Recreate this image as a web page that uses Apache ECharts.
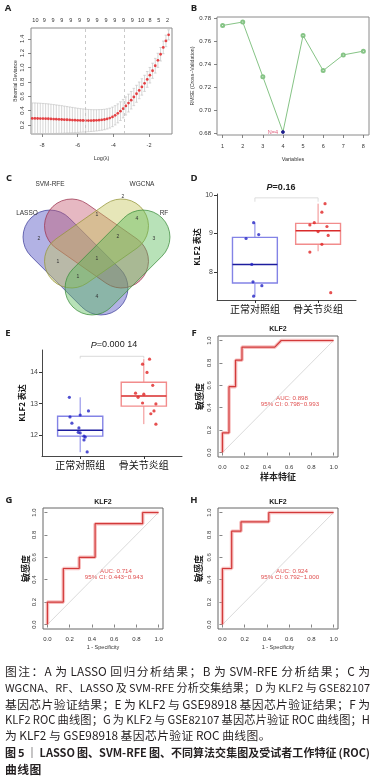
<!DOCTYPE html>
<html>
<head>
<meta charset="utf-8">
<script src="https://cdn.jsdelivr.net/npm/echarts@6/dist/echarts.min.js"></script>
<style>
html, body { margin: 0; padding: 0; background: #fff; }
#chart { width: 380px; height: 784px; }
</style>
</head>
<body>
<div id="chart"></div>
<script>
// A: LASSO 交叉验证曲线
const logLambda = [-8.55,-8.40,-8.25,-8.10,-7.95,-7.80,-7.65,-7.50,-7.35,-7.20,
  -7.05,-6.90,-6.75,-6.60,-6.45,-6.30,-6.15,-6.00,-5.85,-5.70,
  -5.55,-5.40,-5.25,-5.10,-4.95,-4.80,-4.65,-4.50,-4.35,-4.20,
  -4.05,-3.90,-3.75,-3.60,-3.45,-3.30,-3.15,-3.00,-2.85,-2.70,
  -2.55,-2.40,-2.25,-2.10,-1.95,-1.80,-1.65,-1.50,-1.35,-1.20,
  -1.05,-0.90];
const cvMean = [0.292,0.292,0.291,0.290,0.289,0.288,0.287,0.285,0.283,0.281,
  0.279,0.277,0.275,0.273,0.271,0.269,0.267,0.265,0.264,0.263,
  0.262,0.262,0.262,0.263,0.265,0.268,0.272,0.277,0.285,0.296,
  0.313,0.335,0.362,0.393,0.428,0.465,0.505,0.545,0.590,0.635,
  0.682,0.730,0.780,0.835,0.893,0.955,1.025,1.100,1.185,1.280,
  1.370,1.455];
const cvSd = [0.215,0.215,0.214,0.213,0.211,0.209,0.207,0.204,0.201,0.198,
  0.195,0.192,0.188,0.184,0.180,0.176,0.172,0.168,0.164,0.161,
  0.158,0.155,0.152,0.150,0.148,0.146,0.144,0.142,0.140,0.138,
  0.136,0.134,0.132,0.130,0.128,0.126,0.124,0.122,0.120,0.118,
  0.116,0.114,0.112,0.110,0.108,0.105,0.102,0.098,0.094,0.088,
  0.080,0.070];
const nonzeroCounts = ['10','9','9','9','9','9','9','9','9','9','9','9','10','8','5','2'];
const lambdaMinLog = -5.55;
const lambda1seLog = -3.4;

// B: SVM-RFE
const rfeVars = [1, 2, 3, 4, 5, 6, 7, 8];
const rfeRmse = [0.7741, 0.7771, 0.7294, 0.6811, 0.7654, 0.7347, 0.7484, 0.7517];
const rfeBest = 4;

// C: 韦恩图
const vennNames = ['LASSO', 'SVM-RFE', 'WGCNA', 'RF'];
const vennCounts = [2, 1, 4, 2, 2, 3, 1, 1, 1, 4];

// D / E: 箱线图
const groupNames = ['正常对照组', '骨关节炎组'];
const dCtrlX = [0.86, 0.98, 1.06, 0.95, 0.97, 1.11, 0.98];
const dCtrlY = [8.87, 9.28, 8.97, 8.20, 7.75, 7.65, 7.38];
const dOaX = [2.11, 2.06, 1.94, 1.87, 2.14, 2.16, 2.06, 1.87, 2.20, 2.00];
const dOaY = [9.77, 9.55, 9.28, 9.22, 9.18, 8.95, 8.72, 8.52, 7.47, 9.05];
const dBoxCtrl = [7.38, 7.72, 8.20, 8.90, 9.28];
const dBoxOa = [8.54, 8.72, 9.07, 9.26, 9.77];
const dP = '0.16';

const eCtrlX = [0.83, 0.84, 1.00, 1.13, 0.87, 0.98, 0.97, 1.00, 1.06, 1.08, 1.06, 1.11];
const eCtrlY = [13.20, 12.58, 12.64, 12.77, 12.38, 12.23, 12.09, 12.07, 11.97, 11.94, 11.85, 11.47];
const eOaX = [2.09, 1.98, 2.05, 2.14, 1.87, 2.00, 1.91, 1.98, 2.16, 2.11, 2.19, 2.19];
const eOaY = [14.41, 14.25, 13.99, 13.58, 13.33, 13.30, 13.20, 13.02, 12.77, 12.68, 12.99, 12.35];
const eBoxCtrl = [11.46, 11.97, 12.16, 12.60, 13.20];
const eBoxOa = [12.35, 12.92, 13.24, 13.68, 14.41];
const eP = '0.000 14';

// F / G / H: ROC
const rocF_fpr = [0, 0, 0.059, 0.059, 0.118, 0.118, 0.176, 0.176, 0.471, 0.529, 1];
const rocF_tpr = [0, 0.176, 0.176, 0.588, 0.588, 0.824, 0.824, 0.941, 0.941, 1, 1];
const rocG_fpr = [0, 0, 0.143, 0.143, 0.286, 0.286, 0.429, 0.429, 0.857, 0.857, 1];
const rocG_tpr = [0, 0.2, 0.2, 0.5, 0.5, 0.6, 0.6, 0.9, 0.9, 1, 1];
const rocH_fpr = [0, 0, 0.083, 0.083, 0.167, 0.167, 0.417, 0.417, 1];
const rocH_tpr = [0, 0.5, 0.5, 0.833, 0.833, 0.917, 0.917, 1, 1];
const aucTexts = [
  ['AUC: 0.898', '95% CI: 0.798−0.993'],
  ['AUC: 0.714', '95% CI: 0.443−0.943'],
  ['AUC: 0.924', '95% CI: 0.792−1.000']
];
const rocTicks = [0, 0.2, 0.4, 0.6, 0.8, 1.0];

const captionLines = [
  '图注：A 为 LASSO 回归分析结果；B 为 SVM-RFE 分析结果；C 为',
  'WGCNA、RF、LASSO 及 SVM-RFE 分析交集结果；D 为 KLF2 与 GSE82107',
  '基因芯片验证结果；E 为 KLF2 与 GSE98918 基因芯片验证结果；F 为',
  'KLF2 ROC 曲线图；G 为 KLF2 与 GSE82107 基因芯片验证 ROC 曲线图；H',
  '为 KLF2 与 GSE98918 基因芯片验证 ROC 曲线图。',
  '图 5 ｜ LASSO 图、SVM-RFE 图、不同算法交集图及受试者工作特征 (ROC)',
  '曲线图'
];

const RF = '"Liberation Sans", Arial, sans-serif';
const CJK = '"Noto Sans CJK SC", sans-serif';

const chart = echarts.init(document.getElementById('chart'));

// R 风格坐标轴
function rX(grid, min, max, ticks, fmt, name, gap, nameStyle, extra) {
  return Object.assign({
    gridIndex: grid, type: 'value', min: min, max: max,
    axisLine: { show: false },
    axisTick: { show: true, length: 3, customValues: ticks, lineStyle: { color: '#666', width: 0.8 } },
    axisLabel: { customValues: ticks, formatter: fmt, fontSize: 6, fontFamily: RF, color: '#333', margin: 7 },
    splitLine: { show: false },
    name: name, nameLocation: 'middle', nameGap: gap,
    nameTextStyle: Object.assign({ fontSize: 6, fontFamily: RF, color: '#333' }, nameStyle || {})
  }, extra || {});
}
function rY(grid, min, max, ticks, fmt, name, gap, nameStyle, rotate, extra) {
  return Object.assign({
    gridIndex: grid, type: 'value', min: min, max: max,
    axisLine: { show: false },
    axisTick: { show: true, length: 3, customValues: ticks, lineStyle: { color: '#666', width: 0.8 } },
    axisLabel: { customValues: ticks, formatter: fmt, fontSize: 6, fontFamily: RF, color: '#333', margin: 6, rotate: rotate },
    splitLine: { show: false },
    name: name, nameLocation: 'middle', nameGap: gap, nameRotate: 90,
    nameTextStyle: Object.assign({ fontSize: 6, fontFamily: RF, color: '#333' }, nameStyle || {})
  }, extra || {});
}
// ggplot 风格坐标轴
function gX(grid) {
  return {
    gridIndex: grid, type: 'value', min: 0.4, max: 2.6,
    axisLine: { show: true, lineStyle: { color: '#333', width: 0.9 } },
    axisTick: { show: true, length: 3, customValues: [1, 2], lineStyle: { color: '#333' } },
    axisLabel: { customValues: [1, 2], formatter: v => groupNames[Math.round(v) - 1],
      fontSize: 10, fontFamily: CJK, color: '#111', margin: 4 },
    splitLine: { show: false }
  };
}
function gY(grid, min, max, ticks, gap) {
  return {
    gridIndex: grid, type: 'value', min: min, max: max,
    axisLine: { show: true, lineStyle: { color: '#333', width: 0.9 } },
    axisTick: { show: true, length: 3, customValues: ticks, lineStyle: { color: '#333' } },
    axisLabel: { customValues: ticks, fontSize: 7, fontFamily: RF, color: '#444', margin: 4 },
    splitLine: { show: false },
    name: 'KLF2 表达', nameLocation: 'middle', nameGap: gap, nameRotate: 90,
    nameTextStyle: { fontSize: 8, fontFamily: CJK, fontWeight: 'bold', color: '#111' }
  };
}

const f1 = v => v.toFixed(1);

// 箱线图
function boxRender(lineColors, medColors) {
  return function (params, api) {
    const x = api.value(0);
    const half = 0.355;
    const pLo = api.coord([x, api.value(1)]);
    const pQ1 = api.coord([x - half, api.value(2)]);
    const pMedL = api.coord([x - half, api.value(3)]);
    const pMedR = api.coord([x + half, api.value(3)]);
    const pQ3 = api.coord([x + half, api.value(4)]);
    const pHi = api.coord([x, api.value(5)]);
    const c = lineColors[params.dataIndex];
    return {
      type: 'group', children: [
        { type: 'line', shape: { x1: pLo[0], y1: pLo[1], x2: pLo[0], y2: pQ1[1] }, style: { stroke: c, lineWidth: 1 } },
        { type: 'line', shape: { x1: pHi[0], y1: pHi[1], x2: pHi[0], y2: pQ3[1] }, style: { stroke: c, lineWidth: 1 } },
        { type: 'rect', shape: { x: pQ1[0], y: pQ3[1], width: pQ3[0] - pQ1[0], height: pQ1[1] - pQ3[1] },
          style: { fill: 'rgba(255,255,255,0)', stroke: c, lineWidth: 1.4 } },
        { type: 'line', shape: { x1: pMedL[0], y1: pMedL[1], x2: pMedR[0], y2: pMedR[1] },
          style: { stroke: medColors[params.dataIndex], lineWidth: 1.5 } }
      ]
    };
  };
}

function boxSeries(grid, ctrl, oa) {
  return {
    type: 'custom', xAxisIndex: grid, yAxisIndex: grid - 1,
    renderItem: boxRender(['#8383e6', '#f28c8c'], ['#1d1d9e', '#d92b2b']),
    data: [[1].concat(ctrl), [2].concat(oa)], z: 2
  };
}
function dots(xi, yi, xs, ys, color) {
  return {
    type: 'scatter', xAxisIndex: xi, yAxisIndex: yi, symbolSize: 3.2,
    itemStyle: { color: color }, data: xs.map((x, i) => [x, ys[i]]), z: 3
  };
}
function bracket(xi, yi, top, foot, color) {
  return {
    type: 'line', xAxisIndex: xi, yAxisIndex: yi, symbol: 'none', silent: true,
    lineStyle: { color: color, width: 0.8 },
    data: [[1, foot], [1, top], [2, top], [2, foot]]
  };
}
function rocSeries(idx, fpr, tpr) {
  const pts = fpr.map((x, i) => [x, tpr[i]]);
  return [
    { type: 'line', xAxisIndex: idx, yAxisIndex: idx - 1, symbol: 'none', silent: true,
      lineStyle: { color: '#d0d0d0', width: 0.8 }, data: [[0, 0], [1, 1]] },
    { type: 'line', xAxisIndex: idx, yAxisIndex: idx - 1, symbol: 'none', silent: true,
      lineStyle: { color: 'rgba(240,140,140,0.55)', width: 3.6 }, data: pts },
    { type: 'line', xAxisIndex: idx, yAxisIndex: idx - 1, symbol: 'none', silent: true,
      lineStyle: { color: '#d23a3a', width: 1.2 }, data: pts }
  ];
}

// 图形元素
const graphics = [];
function txt(x, y, text, size, opts) {
  graphics.push({
    type: 'text', x: x, y: y, silent: true,
    style: Object.assign({ text: text, fontSize: size, fontFamily: RF, fill: '#222',
      align: 'center', verticalAlign: 'middle' }, opts || {})
  });
}
// 分图标号
[['A', 8, 8], ['B', 194, 8], ['C', 9, 178], ['D', 194, 178], ['E', 8, 333],
 ['F', 194, 333], ['G', 9, 500], ['H', 194, 500]].forEach(l =>
  txt(l[1], l[2], l[0], 9.5, { fontWeight: 'bold', fontFamily: '"Open Sans", ' + RF }));

// 韦恩图
const deg = Math.PI / 180;
const vennW = 54;
const vennShapes = [
  { cx: 75.5, cy: 262.5, rot: -45 * deg, L: 126, fill: 'rgba(85,85,195,0.45)', stroke: '#3f3f9a' },
  { cx: 96.5, cy: 243.5, rot: -35 * deg, L: 115, fill: 'rgba(195,85,110,0.42)', stroke: '#9c3550' },
  { cx: 96.5, cy: 243.5, rot: 35 * deg, L: 115, fill: 'rgba(195,195,85,0.42)', stroke: '#96963a' },
  { cx: 117.5, cy: 262.5, rot: 45 * deg, L: 126, fill: 'rgba(85,185,85,0.42)', stroke: '#3c8c3c' }
];
vennShapes.forEach(s => graphics.push({
  type: 'rect', x: s.cx, y: s.cy, rotation: s.rot, silent: true,
  shape: { x: -s.L / 2, y: -vennW / 2, width: s.L, height: vennW, r: vennW / 2 },
  style: { fill: s.fill, stroke: s.stroke, lineWidth: 0.7 }
}));
const vennNamePos = [[27, 213], [50, 184], [142, 184], [164, 213]];
vennNames.forEach((n, i) => txt(vennNamePos[i][0], vennNamePos[i][1], n, 6.5, { fill: '#333' }));
const vennCountPos = [[123, 197], [97, 215], [137, 219], [39, 239], [118, 237],
  [154, 239], [58, 262], [97, 259], [78, 277], [97, 297]];
vennCounts.forEach((c, i) => txt(vennCountPos[i][0], vennCountPos[i][1], String(c), 5, { fill: '#333' }));

// P 值
txt(281, 188, '{i|P}=' + dP, 9, { fontWeight: 'bold', rich: { i: { fontStyle: 'italic', fontWeight: 'bold', fontSize: 9, fontFamily: RF } } });
txt(114, 345, '{i|P}=' + eP, 9, { rich: { i: { fontStyle: 'italic', fontSize: 9, fontFamily: RF } } });

// ROC 标题与 AUC
[[278, 329], [103, 502], [278, 502]].forEach(p => txt(p[0], p[1], 'KLF2', 7, { fontWeight: 'bold' }));
[[292, 398], [116, 571], [292, 571]].forEach((p, i) => {
  txt(p[0], p[1], aucTexts[i][0], 6.2, { fill: '#e05050' });
  txt(p[0] - 2, p[1] + 6, aucTexts[i][1], 6.2, { fill: '#e05050' });
});

// 图注（两端对齐）
const meas = document.createElement('canvas').getContext('2d');
const capTops = [672, 688, 705, 720, 736, 753, 770];
const capJustify = [1, 1, 1, 1, 0, 1, 0];
const capLeft = 5, capRight = 370;
captionLines.forEach((line, li) => {
  const weight = li >= 5 ? 'bold' : 'normal';
  const toks = line.match(/[A-Za-z0-9\-\.\(\)]+| +|[^A-Za-z0-9\-\.\(\) ]/g);
  let size = 11.8, widths, natural;
  for (;;) {
    meas.font = weight + ' ' + size + 'px "Noto Sans CJK SC"';
    widths = toks.map(t => t.trim() ? meas.measureText(t).width : meas.measureText(' ').width * 0.8 * t.length);
    natural = widths.reduce((a, b) => a + b, 0);
    if (!capJustify[li] || natural <= capRight - capLeft || size < 9) break;
    size -= 0.2;
  }
  const nWords = toks.filter(t => t.trim()).length;
  const extra = capJustify[li] ? (capRight - capLeft - natural) / Math.max(1, nWords - 1) : 0.4;
  let x = capLeft;
  toks.forEach((t, i) => {
    if (!t.trim()) { x += widths[i]; return; }
    graphics.push({
      type: 'text', x: x, y: capTops[li], silent: true,
      style: { text: t, fontSize: size, fontWeight: weight, fontFamily: '"Noto Sans CJK SC"',
        fill: '#231f20', align: 'left', verticalAlign: 'middle' }
    });
    x += widths[i] + extra;
  });
});

const option = {
  animation: false,
  backgroundColor: '#fff',
  grid: [
    { left: 31, top: 28, width: 141, height: 106, show: true, borderColor: '#8a8a8a', borderWidth: 1 },
    { left: 217, top: 17, width: 152, height: 118, show: true, borderColor: '#8a8a8a', borderWidth: 1 },
    { left: 217, top: 194, width: 139, height: 106 },
    { left: 42, top: 350, width: 140, height: 106 },
    { left: 218, top: 336, width: 120, height: 121, show: true, borderColor: '#666', borderWidth: 1 },
    { left: 43, top: 508, width: 120, height: 121, show: true, borderColor: '#666', borderWidth: 1 },
    { left: 218, top: 508, width: 120, height: 121, show: true, borderColor: '#666', borderWidth: 1 }
  ],
  xAxis: [
    rX(0, -8.62, -0.71, [-8, -6, -4, -2], v => String(v), 'Log(λ)', 21, { fontSize: 5.5 }, { axisLabel: { customValues: [-8, -6, -4, -2], fontSize: 5.5, fontFamily: RF, color: '#333', margin: 8 } }),
    { gridIndex: 0, type: 'category', position: 'top', data: nonzeroCounts,
      axisLine: { show: false }, axisTick: { show: false },
      axisLabel: { interval: 0, fontSize: 5.5, fontFamily: RF, color: '#333', margin: 5 } },
    rX(1, 0.72, 8.28, rfeVars, v => String(v), 'Variables', 21, { fontSize: 5.5 }, { axisLabel: { customValues: rfeVars, fontSize: 5.5, fontFamily: RF, color: '#333', margin: 8 } }),
    gX(2),
    gX(3),
    rX(4, -0.04, 1.04, rocTicks, f1, '样本特征', 15, { fontSize: 9, fontFamily: CJK, fontWeight: 'bold', color: '#222' }),
    rX(5, -0.04, 1.04, rocTicks, f1, '1 - Specificity', 15, { fontSize: 5.5 }),
    rX(6, -0.04, 1.04, rocTicks, f1, '1 - Specificity', 15, { fontSize: 5.5 })
  ],
  yAxis: [
    rY(0, 0.075, 1.55, [0.2, 0.4, 0.6, 0.8, 1.0, 1.2, 1.4], f1, 'Binomial Deviance', 10, { fontSize: 5 }, 90),
    rY(1, 0.6785, 0.7815, [0.68, 0.70, 0.72, 0.74, 0.76, 0.78], v => v.toFixed(2), 'RMSE (Cross−Validation)', 15, { fontSize: 5.2 }, 0),
    gY(2, 7.28, 10.02, [8, 9, 10], 12),
    gY(3, 11.34, 14.7, [12, 13, 14], 13),
    rY(4, -0.04, 1.04, rocTicks, f1, '敏感度', 14, { fontSize: 9, fontFamily: CJK, fontWeight: 'bold', color: '#222' }, 90),
    rY(5, -0.04, 1.04, rocTicks, f1, '敏感度', 12, { fontSize: 9, fontFamily: CJK, fontWeight: 'bold', color: '#222' }, 90),
    rY(6, -0.04, 1.04, rocTicks, f1, '敏感度', 15, { fontSize: 9, fontFamily: CJK, fontWeight: 'bold', color: '#222' }, 90)
  ],
  series: [
    {
      type: 'custom', xAxisIndex: 0, yAxisIndex: 0, silent: true,
      data: logLambda.map((x, i) => [x, cvMean[i] - cvSd[i], cvMean[i] + cvSd[i]]),
      renderItem: function (params, api) {
        const lo = api.coord([api.value(0), api.value(1)]);
        const hi = api.coord([api.value(0), api.value(2)]);
        const st = { stroke: '#c4c4c4', lineWidth: 0.7 };
        return { type: 'group', children: [
          { type: 'line', shape: { x1: lo[0], y1: lo[1], x2: hi[0], y2: hi[1] }, style: st },
          { type: 'line', shape: { x1: lo[0] - 1.3, y1: lo[1], x2: lo[0] + 1.3, y2: lo[1] }, style: st },
          { type: 'line', shape: { x1: hi[0] - 1.3, y1: hi[1], x2: hi[0] + 1.3, y2: hi[1] }, style: st }
        ] };
      }
    },
    {
      type: 'scatter', xAxisIndex: 0, yAxisIndex: 0, symbolSize: 2.8, silent: true,
      itemStyle: { color: '#e3181c' }, z: 3,
      data: logLambda.map((x, i) => [x, cvMean[i]]),
      markLine: {
        symbol: 'none', silent: true, label: { show: false },
        lineStyle: { type: [3, 3], color: '#bdbdbd', width: 0.8 },
        data: [{ xAxis: lambdaMinLog }, { xAxis: lambda1seLog }]
      }
    },
    {
      type: 'line', xAxisIndex: 2, yAxisIndex: 1, symbol: 'emptyCircle', symbolSize: 3,
      lineStyle: { color: '#86c486', width: 1 }, itemStyle: { color: '#86c486', borderWidth: 0.8 },
      data: rfeVars.map((v, i) => v === rfeBest ? {
        value: [v, rfeRmse[i]], symbol: 'circle', symbolSize: 3,
        itemStyle: { color: '#1c1c8c', borderColor: '#1c1c8c' },
        label: { show: true, position: 'left', distance: 3, formatter: 'N=' + rfeBest,
          fontSize: 5.5, fontFamily: RF, color: '#e0607e' }
      } : [v, rfeRmse[i]])
    },
    bracket(3, 2, 9.92, 9.82, '#d6d6d6'),
    boxSeries(3, dBoxCtrl, dBoxOa),
    dots(3, 2, dCtrlX, dCtrlY, '#2424c4'),
    dots(3, 2, dOaX, dOaY, '#e02424'),
    bracket(4, 3, 14.5, 14.43, '#cfcfcf'),
    boxSeries(4, eBoxCtrl, eBoxOa),
    dots(4, 3, eCtrlX, eCtrlY, '#2424c4'),
    dots(4, 3, eOaX, eOaY, '#e02424')
  ].concat(rocSeries(5, rocF_fpr, rocF_tpr), rocSeries(6, rocG_fpr, rocG_tpr), rocSeries(7, rocH_fpr, rocH_tpr)),
  graphic: graphics
};

chart.setOption(option);
</script>
</body>
</html>
